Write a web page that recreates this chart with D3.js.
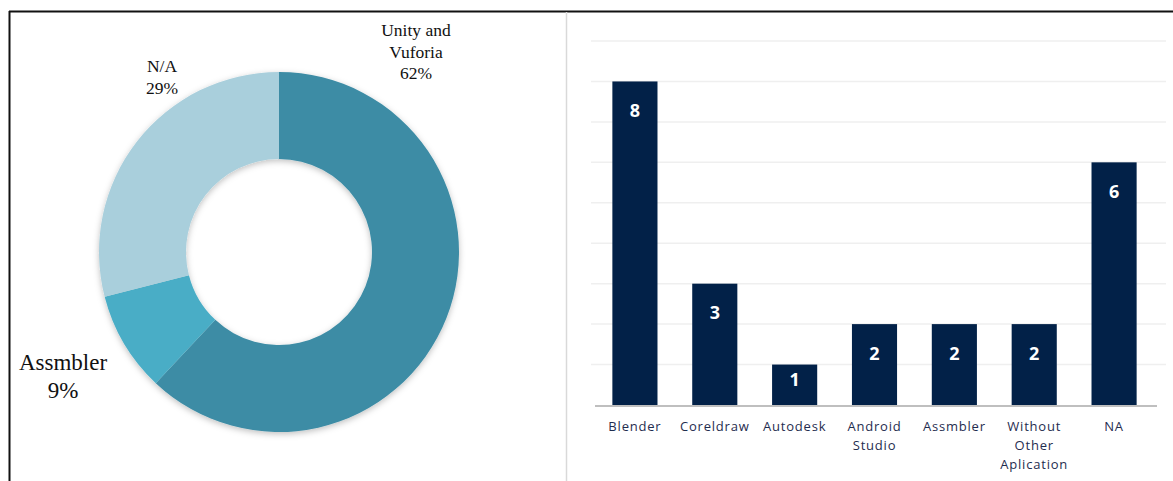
<!DOCTYPE html>
<html>
<head>
<meta charset="utf-8">
<script src="https://cdn.jsdelivr.net/npm/d3@7"></script>
<style>
  body { margin: 0; background: #fff; }
  svg { display: block; }
</style>
</head>
<body>
<div id="root"></div>
<script>
// page size
let width = 1173, height = 481;

// pie data
const pieLabels = [['Unity and', 'Vuforia'], ['Assmbler'], ['N/A']];
const pieValues = [62, 9, 29];
const pieColors = ['#3d8ca5', '#4aadc6', '#a9cfdc'];

// bar data
const barCats = [['Blender'], ['Coreldraw'], ['Autodesk'], ['Android', 'Studio'], ['Assmbler'], ['Without', 'Other', 'Aplication'], ['NA']];
const barValues = [8, 3, 1, 2, 2, 2, 6];
const gridTicks = [1, 2, 3, 4, 5, 6, 7, 8, 9];

var svg = d3.select('#root')
  .append('svg')
  .attr('width', width)
  .attr('height', height);

// soft shadow for the donut
var defs = svg.append('defs');
var f = defs.append('filter').attr('id', 'sh').attr('x', '-20%').attr('y', '-20%').attr('width', '140%').attr('height', '140%');
f.append('feDropShadow').attr('dx', 0).attr('dy', 2).attr('stdDeviation', 3).attr('flood-color', '#000').attr('flood-opacity', 0.25);

// frame lines
svg.append('line').attr('x1', 9).attr('x2', width).attr('y1', 11.5).attr('y2', 11.5).attr('stroke', '#111').attr('stroke-width', 2);
svg.append('line').attr('x1', 9.5).attr('x2', 9.5).attr('y1', 11).attr('y2', height).attr('stroke', '#111').attr('stroke-width', 2);
svg.append('line').attr('x1', 566.5).attr('x2', 566.5).attr('y1', 12).attr('y2', height).attr('stroke', '#d9d9d9').attr('stroke-width', 1.5);

// ---- donut
var cx = 279, cy = 252, outerR = 180, innerR = 93;
var pie = d3.pie().sort(null).value(d => d);
var arc = d3.arc().innerRadius(innerR).outerRadius(outerR);

var pieG = svg.append('g').attr('transform', 'translate(' + [cx, cy] + ')');
pieG.append('g').attr('filter', 'url(#sh)')
  .selectAll('path')
  .data(pie(pieValues))
  .enter()
  .append('path')
  .attr('d', arc)
  .attr('fill', (d, i) => pieColors[i]);

// label positions picked to match the original
var labelPos = [
  {x: 416, y: 36, size: 17.5, lh: 21.5},
  {x: 63, y: 370, size: 23, lh: 28},
  {x: 162, y: 72, size: 17.5, lh: 21.5}
];
pieValues.forEach((v, i) => {
  var lines = pieLabels[i].concat([v + '%']);
  var p = labelPos[i];
  var t = svg.append('text')
    .attr('x', p.x)
    .attr('y', p.y)
    .attr('text-anchor', 'middle')
    .style('font-family', '"Liberation Serif", "Times New Roman", serif')
    .style('font-size', p.size + 'px')
    .attr('fill', '#111');
  lines.forEach((l, j) => {
    t.append('tspan').attr('x', p.x).attr('dy', j === 0 ? 0 : p.lh).text(l);
  });
});

// ---- bar chart
var xScale = d3.scaleBand()
  .domain(barCats.map((d, i) => i))
  .range([595, 1154])
  .paddingInner(0.435)
  .paddingOuter(0.2175);

var yScale = d3.scaleLinear()
  .domain([0, 9])
  .range([405, 41]);

// gridlines
svg.append('g')
  .selectAll('line')
  .data(gridTicks)
  .enter()
  .append('line')
  .attr('x1', 591).attr('x2', 1166)
  .attr('y1', d => yScale(d)).attr('y2', d => yScale(d))
  .attr('stroke', '#efefef')
  .attr('stroke-width', 1.5);

svg.append('g')
  .selectAll('rect')
  .data(barValues)
  .enter()
  .append('rect')
  .attr('x', (d, i) => xScale(i))
  .attr('y', d => yScale(d))
  .attr('width', xScale.bandwidth())
  .attr('height', d => yScale(0) - yScale(d))
  .attr('fill', '#022148');

// value labels, inside end of the bar
svg.append('g')
  .selectAll('text')
  .data(barValues)
  .enter()
  .append('text')
  .attr('x', (d, i) => xScale(i) + xScale.bandwidth() / 2)
  .attr('y', d => yScale(d) + Math.min(29, (yScale(0) - yScale(d)) / 2 - 5))
  .attr('dy', '0.36em')
  .attr('text-anchor', 'middle')
  .attr('fill', '#fff')
  .style('font-family', '"Open Sans", "Noto Sans", sans-serif')
  .style('font-weight', 'bold')
  .style('font-size', '18px')
  .text(d => d);

// baseline
svg.append('line')
  .attr('x1', 595).attr('x2', 1157)
  .attr('y1', yScale(0) + 1).attr('y2', yScale(0) + 1)
  .attr('stroke', '#bfbfbf').attr('stroke-width', 2);

// category labels
var catG = svg.append('g');
barCats.forEach((c, i) => {
  var x = xScale(i) + xScale.bandwidth() / 2;
  var t = catG.append('text')
    .attr('x', x)
    .attr('y', 431)
    .attr('text-anchor', 'middle')
    .attr('fill', '#1f2d4f')
    .style('font-family', '"Open Sans", "Noto Sans", sans-serif')
    .style('font-size', '13px')
    .style('letter-spacing', '0.8px');
  c.forEach((l, j) => {
    t.append('tspan').attr('x', x).attr('dy', j === 0 ? 0 : 19).text(l);
  });
});
</script>
</body>
</html>
